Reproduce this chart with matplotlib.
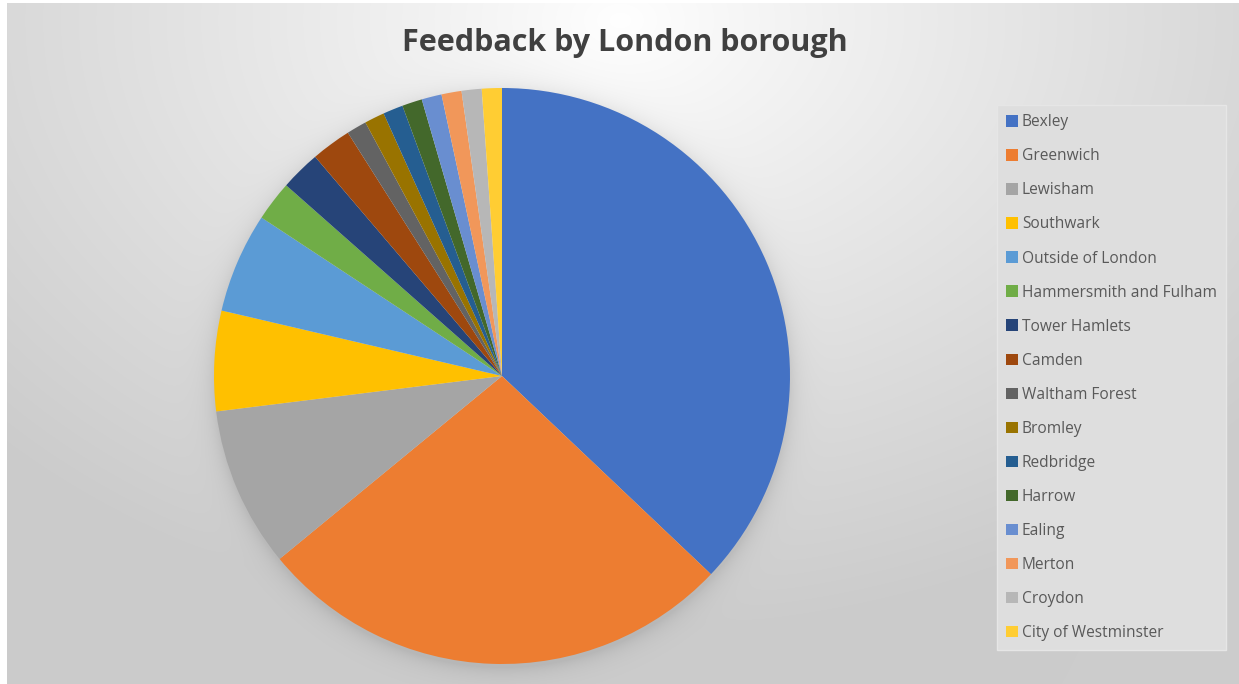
import numpy as np
import matplotlib
matplotlib.use('Agg')
import matplotlib.pyplot as plt

boroughs = ['Bexley', 'Greenwich', 'Lewisham', 'Southwark', 'Outside of London',
            'Hammersmith and Fulham', 'Tower Hamlets', 'Camden', 'Waltham Forest',
            'Bromley', 'Redbridge', 'Harrow', 'Ealing', 'Merton', 'Croydon',
            'City of Westminster']
counts = [33, 24, 8, 5, 5, 2, 2, 2, 1, 1, 1, 1, 1, 1, 1, 1]
colors = ['#4472C4', '#ED7D31', '#A5A5A5', '#FFC000', '#5B9BD5', '#70AD47',
          '#264478', '#9E480E', '#636363', '#997300', '#255E91', '#43682B',
          '#698ED0', '#F1975A', '#B7B7B7', '#FFCD33']

W, H = 1239, 684
fig = plt.figure(figsize=(W / 100, H / 100), dpi=100)

# background: radial grey gradient + soft shadow under the pie
yy, xx = np.mgrid[0:H, 0:W]
d = np.sqrt((xx - 620) ** 2 + ((yy - 20) * 1.4) ** 2)
bg = 1.0 - 0.20 * np.clip(d / 850, 0, 1) ** 0.9
cx, cy, R = 502, 376, 288
dp = np.sqrt((xx - cx) ** 2 + (yy - cy - 3) ** 2)
shadow = 0.08 * np.exp(-np.clip(dp - R, 0, None) / 10.0)
bg = bg - shadow * (dp > R - 5)
bg[:, :7] = 1.0
bg[:3, :] = 1.0
bgax = fig.add_axes([0, 0, 1, 1])
bgax.imshow(np.dstack([bg, bg, bg]), aspect='auto', interpolation='bilinear')
bgax.axis('off')

# pie
ax = fig.add_axes([(cx - R) / W, (H - cy - R) / H, 2 * R / W, 2 * R / H])
wedges, _ = ax.pie(counts, colors=colors, startangle=90, counterclock=False,
                   wedgeprops=dict(linewidth=0))
ax.set_xlim(-1, 1)
ax.set_ylim(-1, 1)
ax.set_aspect('equal')
ax.axis('off')

fig.text(625 / W, 1 - 43 / H, 'Feedback by London borough', ha='center', va='center',
         fontsize=22, fontweight='bold', color='#404040', family='Open Sans')

leg = fig.legend(wedges, boroughs, loc='upper left',
                 bbox_to_anchor=(997 / W, 1 - 105 / H), borderaxespad=0,
                 frameon=True, fancybox=False, handlelength=0.75, handleheight=0.75,
                 handletextpad=0.25, labelspacing=1.16, borderpad=0.6,
                 prop={'family': 'Open Sans', 'size': 11.2})
leg.get_frame().set_facecolor('#dedede')
leg.get_frame().set_edgecolor('#e6e6e6')
leg.get_frame().set_alpha(1)
for t in leg.get_texts():
    t.set_color('#595959')

fig.savefig('out.png', dpi=100)
